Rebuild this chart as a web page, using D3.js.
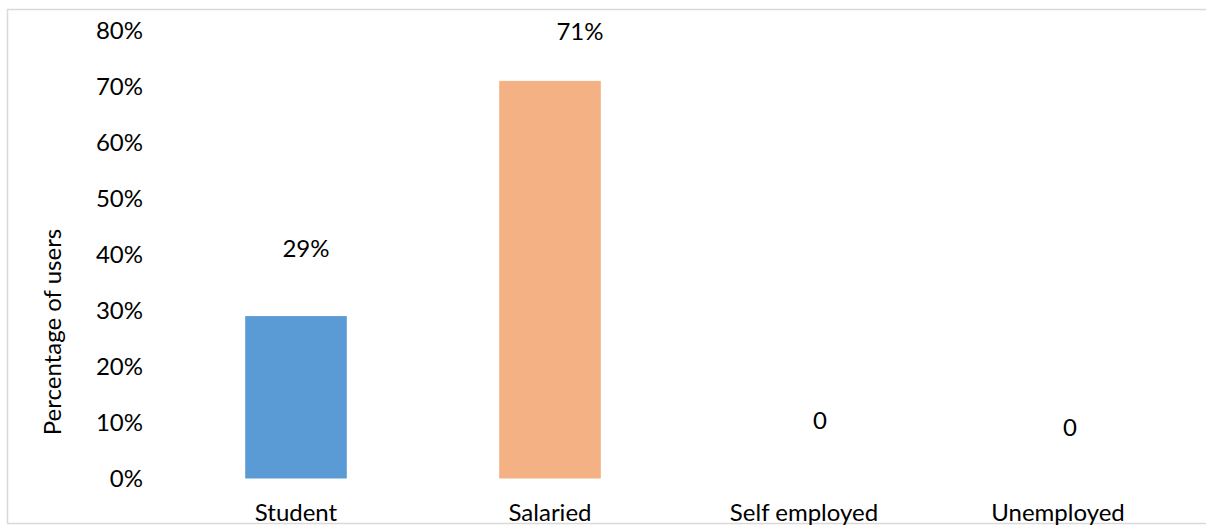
<!DOCTYPE html>
<html>
<head>
<meta charset="utf-8">
<script src="https://cdn.jsdelivr.net/npm/d3@7"></script>
<style>
  html, body { margin: 0; padding: 0; background: #fff; overflow: hidden; }
  svg { display: block; overflow: hidden; }
  text { font-family: Lato, "Open Sans", sans-serif; fill: #000; }
</style>
</head>
<body>
<svg id="chart" width="1206" height="528"></svg>
<script>
// Employment status of users
const categories = ["Student", "Salaried", "Self employed", "Unemployed"];
const shares = [0.29, 0.71, 0, 0];
const barColors = ["#5B9BD5", "#F4B183", "#A5A5A5", "#FFC000"];
const yTicks = [0, 0.1, 0.2, 0.3, 0.4, 0.5, 0.6, 0.7, 0.8];
const yTitle = "Percentage of users";

// hand-placed data label nudges (dx, dy above the bar top)
const labelNudge = [[10, -59], [30, -41], [16, -50], [12, -43]];

const W = 1206, H = 528;
const fontSize = 24;
const svg = d3.select("#chart");

// chart frame (open on the right, running past the edge)
svg.append("path")
  .attr("d", `M${W + 20},9.5 H7.5 V523.5 H${W + 20}`)
  .attr("fill", "none").attr("stroke", "#d9d9d9").attr("stroke-width", 1.5);

const x = d3.scaleBand()
  .domain(categories)
  .range([169, 1185])
  .paddingInner(0.6)
  .paddingOuter(0.3);

const y = d3.scaleLinear()
  .domain([0, 0.8])
  .range([478.5, 30.5]);

const pct = d3.format(".0%");

// y axis: labels only
const yAxis = d3.axisLeft(y)
  .tickValues(yTicks)
  .tickFormat(pct)
  .tickSize(0)
  .tickPadding(0);
const gy = svg.append("g").attr("transform", "translate(143,0)").call(yAxis);
gy.select(".domain").remove();
gy.selectAll("text")
  .attr("font-size", fontSize)
  .attr("font-family", null)
  .attr("fill", "#000")
  .attr("dy", "0.35em");

// x axis: category names
const xAxis = d3.axisBottom(x).tickSize(0).tickPadding(0);
const gx = svg.append("g").attr("transform", "translate(0,521)").call(xAxis);
gx.select(".domain").remove();
gx.selectAll("text")
  .attr("font-size", fontSize)
  .attr("font-family", null)
  .attr("fill", "#000")
  .attr("dy", 0)
  .attr("y", 0);

// bars
svg.append("g").selectAll("rect")
  .data(categories)
  .join("rect")
  .attr("x", d => x(d))
  .attr("width", x.bandwidth())
  .attr("y", (d, i) => y(shares[i]))
  .attr("height", (d, i) => y(0) - y(shares[i]))
  .attr("fill", (d, i) => barColors[i]);

// data labels
svg.append("g").selectAll("text")
  .data(categories)
  .join("text")
  .attr("text-anchor", "middle")
  .attr("font-size", fontSize)
  .attr("x", (d, i) => x(d) + x.bandwidth() / 2 + labelNudge[i][0])
  .attr("y", (d, i) => y(shares[i]) + labelNudge[i][1])
  .text((d, i) => shares[i] === 0 ? "0" : pct(shares[i]));

// y axis title
svg.append("text")
  .attr("transform", "translate(61,332) rotate(-90)")
  .attr("text-anchor", "middle")
  .attr("font-size", fontSize)
  .text(yTitle);
</script>
</body>
</html>
